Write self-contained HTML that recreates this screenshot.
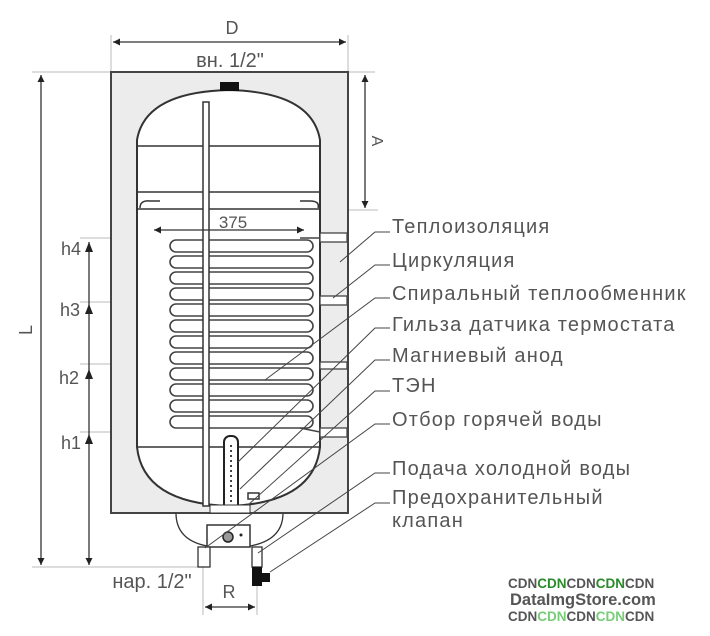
<!DOCTYPE html>
<html><head><meta charset="utf-8"><style>
body{margin:0;background:#fff;width:710px;height:636px;overflow:hidden}
svg{display:block}
text{font-family:"Liberation Sans",sans-serif;fill:#555}
</style></head><body>
<svg width="710" height="636" viewBox="0 0 710 636" xmlns="http://www.w3.org/2000/svg">
<defs>
<marker id="ar" viewBox="0 0 10 10" refX="10" refY="5" markerWidth="10" markerHeight="7" orient="auto-start-reverse" markerUnits="userSpaceOnUse"><path d="M0,0L10,5L0,10z" fill="#222"/></marker>
</defs>
<g stroke="#bbb" stroke-width="1">
<line x1="32" y1="72" x2="375" y2="72"/>
<line x1="320" y1="210" x2="378" y2="210"/>
<line x1="111" y1="35" x2="111" y2="72"/>
<line x1="348" y1="35" x2="348" y2="72"/>
<line x1="32" y1="567" x2="205" y2="567"/>
<line x1="80" y1="238" x2="175" y2="238"/>
<line x1="80" y1="302" x2="175" y2="302"/>
<line x1="80" y1="364" x2="175" y2="364"/>
<line x1="80" y1="432" x2="330" y2="432"/>
<line x1="203" y1="567" x2="203" y2="615"/>
<line x1="257" y1="585" x2="257" y2="615"/>
<line x1="152" y1="212" x2="152" y2="232"/>
<line x1="306" y1="212" x2="306" y2="232"/>
</g>
<rect x="111" y="72" width="237" height="441" fill="#ececec" stroke="#444" stroke-width="2"/>
<path d="M137,140 Q145,92 229,90 Q312,92 320,140 L320,447 Q314,503 229,506 Q143,503 137,447 Z" fill="#fff" stroke="#333" stroke-width="2"/>
<rect x="220" y="82" width="19" height="9" fill="#111"/>
<g stroke="#333" stroke-width="1.5">
<line x1="138" y1="146" x2="319" y2="146"/>
<line x1="138" y1="192" x2="319" y2="192"/>
<line x1="138" y1="209" x2="319" y2="209"/>
<line x1="138" y1="447" x2="319" y2="447"/>
</g>
<path d="M140,208 q0,-8 10,-7 h10 M300,201 h10 q10,0 8,7" fill="none" stroke="#333" stroke-width="1.5"/>
<g fill="#fff" stroke="#444" stroke-width="1.6">
<rect x="170" y="240" width="143" height="12" rx="6"/>
<rect x="170" y="256" width="143" height="12" rx="6"/>
<rect x="170" y="272" width="143" height="12" rx="6"/>
<rect x="170" y="288" width="143" height="12" rx="6"/>
<rect x="170" y="304" width="143" height="12" rx="6"/>
<rect x="170" y="320" width="143" height="12" rx="6"/>
<rect x="170" y="336" width="143" height="12" rx="6"/>
<rect x="170" y="352" width="143" height="12" rx="6"/>
<rect x="170" y="368" width="143" height="12" rx="6"/>
<rect x="170" y="384" width="143" height="12" rx="6"/>
<rect x="170" y="400" width="143" height="12" rx="6"/>
<rect x="170" y="416" width="143" height="12" rx="6"/>
</g>
<line x1="300" y1="238" x2="320" y2="238" stroke="#444" stroke-width="1.5"/>
<line x1="300" y1="428" x2="320" y2="432" stroke="#444" stroke-width="1.5"/>
<rect x="203" y="102" width="6" height="404" fill="#fff" stroke="#333" stroke-width="1.5"/>
<g fill="#fff" stroke="#444" stroke-width="1.3">
<rect x="320" y="233" width="27" height="9"/>
<rect x="320" y="296" width="27" height="9"/>
<rect x="320" y="362" width="27" height="7"/>
<rect x="320" y="428" width="27" height="9"/>
</g>
<rect x="224" y="436" width="14" height="75" rx="6" fill="#fff" stroke="#222" stroke-width="2"/>
<line x1="231" y1="445" x2="231" y2="505" stroke="#444" stroke-width="2" stroke-dasharray="2,3"/>
<rect x="248" y="493" width="11" height="6" fill="#fff" stroke="#333" stroke-width="1.5"/>
<rect x="210" y="505" width="40" height="8" fill="#fff" stroke="#333"/>
<path d="M176,513 Q176,540 207,546 M283,513 Q283,540 250,546" fill="#fff" stroke="#333" stroke-width="1.3"/>
<rect x="207" y="525" width="43" height="22" fill="#fff" stroke="#333" stroke-width="1.5"/>
<circle cx="228" cy="537" r="5" fill="#999" stroke="#222" stroke-width="1.5"/>
<circle cx="241" cy="535" r="1.5" fill="#222"/>
<rect x="198" y="547" width="12" height="20" fill="#fff" stroke="#333" stroke-width="1.3"/>
<rect x="252" y="547" width="10" height="20" fill="#fff" stroke="#333" stroke-width="1.3"/>
<path d="M252,567 h10 v6 h8 v9 h-8 v4 h-10 z" fill="#111"/>
<g stroke="#333" stroke-width="1.3" fill="none">
<line x1="113" y1="42" x2="346" y2="42" marker-start="url(#ar)" marker-end="url(#ar)"/>
<line x1="41" y1="75" x2="41" y2="565" marker-start="url(#ar)" marker-end="url(#ar)"/>
<line x1="89" y1="242" x2="89" y2="565" marker-end="url(#ar)"/>
<line x1="365" y1="75" x2="365" y2="208" marker-start="url(#ar)" marker-end="url(#ar)"/>
<line x1="154" y1="230" x2="304" y2="230" marker-start="url(#ar)" marker-end="url(#ar)"/>
<line x1="205" y1="607" x2="255" y2="607" marker-start="url(#ar)" marker-end="url(#ar)"/>
</g>
<g fill="#222">
<path d="M89,242l-4,10h8z"/><path d="M89,304l-4,10h8z"/><path d="M89,369l-4,10h8z"/><path d="M89,434l-4,10h8z"/>
</g>
<text x="232" y="34" font-size="18" text-anchor="middle">D</text>
<text x="230" y="67" font-size="20" text-anchor="middle">вн. 1/2"</text>
<text x="233" y="228" font-size="17" text-anchor="middle" fill="#777">375</text>
<text x="71" y="255" font-size="18" text-anchor="middle">h4</text>
<text x="70" y="316" font-size="18" text-anchor="middle">h3</text>
<text x="69" y="384" font-size="18" text-anchor="middle">h2</text>
<text x="71" y="449" font-size="18" text-anchor="middle">h1</text>
<text x="0" y="0" font-size="18" transform="translate(32,330) rotate(-90)" text-anchor="middle">L</text>
<text x="0" y="0" font-size="16" transform="translate(372,141) rotate(90)" text-anchor="middle">A</text>
<text x="152" y="588" font-size="20" text-anchor="middle">нар. 1/2"</text>
<text x="229" y="598" font-size="18" text-anchor="middle">R</text>
<g stroke="#444" stroke-width="1" fill="none">
<polyline points="390,232 375,232 340,262"/>
<polyline points="390,265 375,265 333,298"/>
<polyline points="390,298 375,298 265,380"/>
<polyline points="390,328 375,328 238,462"/>
<polyline points="390,360 375,360 240,489"/>
<polyline points="390,391 375,391 248,505"/>
<polyline points="390,424 375,424 205,548"/>
<polyline points="390,473 375,473 258,553"/>
<polyline points="390,503 375,503 270,572"/>
</g>
<g font-size="20" fill="#444" letter-spacing="1.2">
<text x="392" y="233">Теплоизоляция</text>
<text x="392" y="267">Циркуляция</text>
<text x="392" y="300">Спиральный теплообменник</text>
<text x="392" y="331">Гильза датчика термостата</text>
<text x="392" y="362">Магниевый анод</text>
<text x="392" y="392">ТЭН</text>
<text x="392" y="426">Отбор горячей воды</text>
<text x="392" y="475">Подача холодной воды</text>
<text x="392" y="504">Предохранительный</text>
<text x="392" y="527">клапан</text>
</g>
<g font-weight="bold" font-size="13.5">
<text x="508" y="588" fill="#7c7"><tspan>CDN</tspan><tspan fill="#2a8a2a">CDN</tspan><tspan>CDN</tspan><tspan fill="#2a8a2a">CDN</tspan><tspan>CDN</tspan></text>
<text x="510" y="605" font-size="16.5" fill="#1d7a1d">DataImgStore.com</text>
<text x="508" y="621" fill="#2a8a2a"><tspan>CDN</tspan><tspan fill="#7c7">CDN</tspan><tspan>CDN</tspan><tspan fill="#7c7">CDN</tspan><tspan>CDN</tspan></text>
</g>
</svg>
</body></html>
